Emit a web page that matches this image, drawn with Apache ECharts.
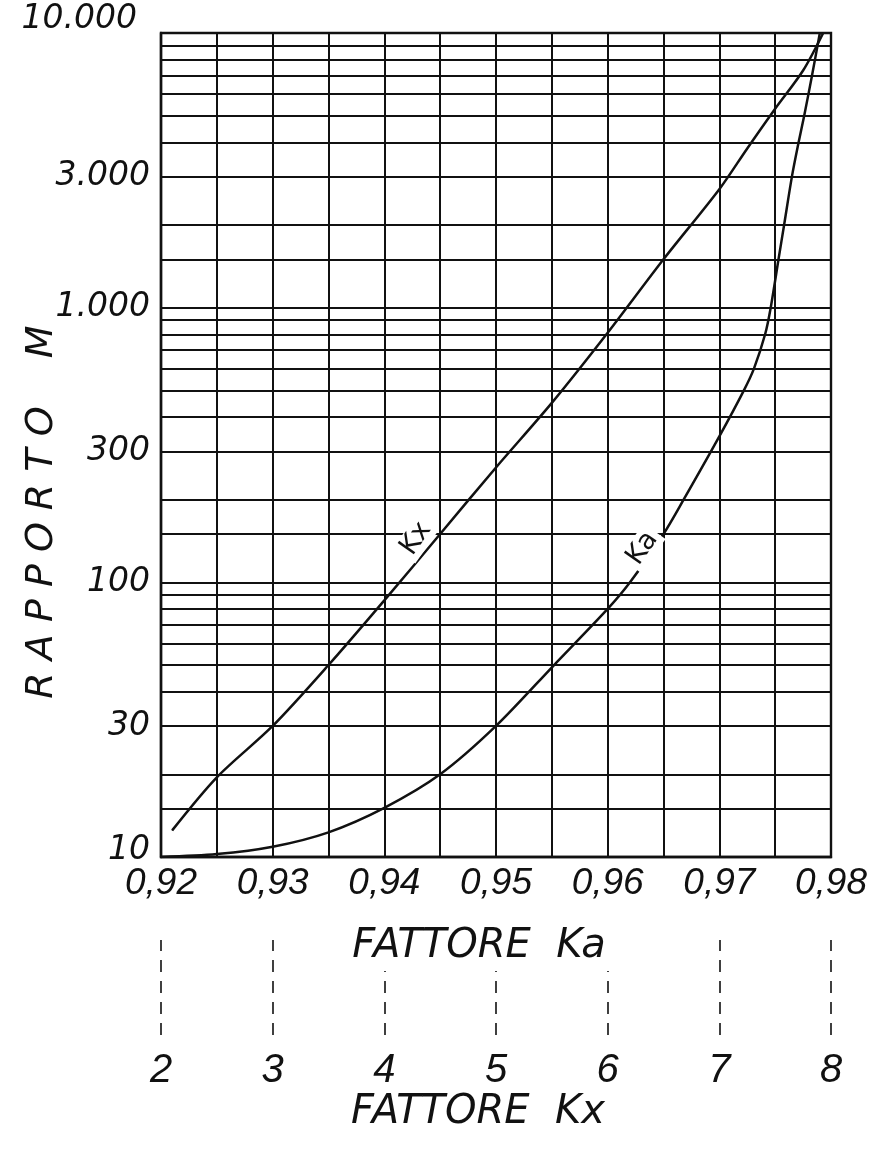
<!DOCTYPE html>
<html>
<head>
<meta charset="utf-8">
<script src="https://cdn.jsdelivr.net/npm/echarts@6/dist/echarts.min.js"></script>
<style>html,body{margin:0;padding:0;background:#fff}#c{width:887px;height:1162px}</style>
</head>
<body>
<div id="c"></div>
<script>
// ---- data ----
// Ka curve: [fattore Ka, rapporto M]
const kaCurve = [
  [0.9200, 10], [0.9250, 10.25], [0.9300, 10.9], [0.9350, 12.3], [0.9400, 15.1],
  [0.9450, 20], [0.9500, 30], [0.9552, 50], [0.9600, 80], [0.9620, 100],
  [0.9650, 150], [0.9668, 200], [0.9700, 340], [0.9722, 500], [0.9731, 600],
  [0.9741, 800], [0.9746, 1000], [0.9753, 1500], [0.9758, 2000], [0.9765, 3000],
  [0.9771, 4000], [0.9776, 5000], [0.9783, 7000], [0.9790, 10000]
];
// Kx curve: [fattore Kx, rapporto M]
const kxCurve = [
  [2.10, 12.5], [2.50, 19.5], [3.00, 30], [3.50, 50], [4.00, 86], [4.50, 150],
  [5.00, 262], [5.50, 450], [6.00, 810], [6.50, 1500], [7.00, 2700], [7.25, 3800],
  [7.50, 5300], [7.75, 7300], [7.93, 10000]
];
const kaTickValues = [0.92, 0.93, 0.94, 0.95, 0.96, 0.97, 0.98];
const kaTickLabels = ['0,92', '0,93', '0,94', '0,95', '0,96', '0,97', '0,98'];
const kxTickValues = [2, 3, 4, 5, 6, 7, 8];
const kxTickLabels = ['2', '3', '4', '5', '6', '7', '8'];
const yTickValues = [10, 30, 100, 300, 1000, 3000, 10000];
const yTickLabels = ['10', '30', '100', '300', '1.000', '3.000', '10.000'];
const yGridValues = [10, 15, 20, 30, 40, 50, 60, 70, 80, 90,
  100, 150, 200, 300, 400, 500, 600, 700, 800, 900,
  1000, 1500, 2000, 3000, 4000, 5000, 6000, 7000, 8000, 9000, 10000];
const kxLabelIndex = 5;   // data point carrying the "Kx" label
const kaLabelIndex = 10;  // data point carrying the "Ka" label

// ---- chart ----
const WIDE = 'DejaVu Sans';
const NARROW = "'Liberation Sans Narrow', 'Liberation Sans', sans-serif";
const ink = '#111';
const yTxt = { fontFamily: WIDE, fontStyle: 'italic', fontSize: 33, color: ink };
const xTxt = { fontFamily: NARROW, fontStyle: 'italic', fontSize: 37, color: ink };
const nameTxt = { fontFamily: WIDE, fontStyle: 'italic', fontSize: 40, color: ink };
const gridLine = { color: ink, width: 2 };

function pick(values, labels, v) {
  const i = values.findIndex(t => Math.abs(t - v) < 1e-6);
  return i >= 0 ? labels[i] : '';
}
const curveLabel = (text, offset) => ({
  show: true, formatter: text, position: 'left', distance: 8, rotate: 55, offset: offset,
  fontFamily: WIDE, fontSize: 27, color: ink, backgroundColor: '#fff', padding: [0, 4]
});
const kxData = kxCurve.map((p, i) => i === kxLabelIndex ? { value: p, label: curveLabel('Kx', [8, -10]) } : p);
const kaData = kaCurve.map((p, i) => i === kaLabelIndex ? { value: p, label: curveLabel('Ka', [2, -2]) } : p);

const chart = echarts.init(document.getElementById('c'), null, { renderer: 'canvas' });
chart.setOption({
  backgroundColor: '#fff',
  animation: false,
  grid: { left: 161, right: 56, top: 33, bottom: 305, show: true, borderColor: ink, borderWidth: 2.4,
    containLabel: false, outerBoundsMode: 'none' },
  xAxis: [{
    type: 'value', min: 0.92, max: 0.98, interval: 0.005, position: 'bottom', z: 1,
    axisLine: { show: true, lineStyle: { color: ink, width: 2.4 } },
    axisTick: { show: false },
    splitLine: { show: true, lineStyle: gridLine },
    axisLabel: Object.assign({ margin: 8, hideOverlap: false, showMinLabel: true, showMaxLabel: true,
      formatter: v => pick(kaTickValues, kaTickLabels, v) }, xTxt),
    name: 'FATTORE  Ka', nameLocation: 'middle', nameGap: 66, nameMoveOverlap: false,
    nameTextStyle: Object.assign({ backgroundColor: '#fff', padding: [4, 40, 4, 6] }, nameTxt)
  }, {
    type: 'value', min: 2, max: 8, interval: 1, position: 'bottom', offset: 178, z: 0,
    axisLine: { show: false },
    axisTick: { show: true, inside: true, length: 95, lineStyle: { color: ink, width: 1.6, type: [12, 9] } },
    splitLine: { show: false },
    axisLabel: Object.assign({ margin: 16, formatter: v => pick(kxTickValues, kxTickLabels, v) }, xTxt, { fontSize: 40 }),
    name: 'FATTORE  Kx', nameLocation: 'middle', nameGap: 58, nameMoveOverlap: false,
    nameTextStyle: Object.assign({ padding: [0, 36, 0, 0] }, nameTxt)
  }],
  yAxis: {
    type: 'log', logBase: 10, min: 10, max: 10000,
    axisLine: { show: true, lineStyle: { color: ink, width: 2.4 } },
    axisTick: { show: false, customValues: yGridValues },
    splitLine: { show: true, lineStyle: gridLine },
    axisLabel: Object.assign({ margin: 11, customValues: yTickValues,
      formatter: v => {
        const s = pick(yTickValues, yTickLabels, v);
        if (v >= 9999) return '{top|' + s + '}';
        if (v <= 10.001) return '{bot|' + s + '}';
        return s;
      },
      rich: {
        top: Object.assign({ padding: [0, 13, 28, 0] }, yTxt),
        bot: Object.assign({ padding: [0, 0, 14, 0] }, yTxt)
      } }, yTxt),
    name: 'R A P P O R T O    M', nameLocation: 'middle', nameGap: 100, nameRotate: 90, nameMoveOverlap: false,
    nameTextStyle: Object.assign({ padding: [0, 134, 0, 0] }, nameTxt, { fontSize: 38 })
  },
  series: [{
    name: 'Kx', type: 'line', xAxisIndex: 1, yAxisIndex: 0, data: kxData, smooth: 0.3,
    symbol: 'circle', symbolSize: 1, showSymbol: true, itemStyle: { color: ink },
    lineStyle: { color: ink, width: 2.5 }, z: 3
  }, {
    name: 'Ka', type: 'line', xAxisIndex: 0, yAxisIndex: 0, data: kaData, smooth: 0.3,
    symbol: 'circle', symbolSize: 1, showSymbol: true, itemStyle: { color: ink },
    lineStyle: { color: ink, width: 2.5 }, z: 3
  }]
});
</script>
</body>
</html>
